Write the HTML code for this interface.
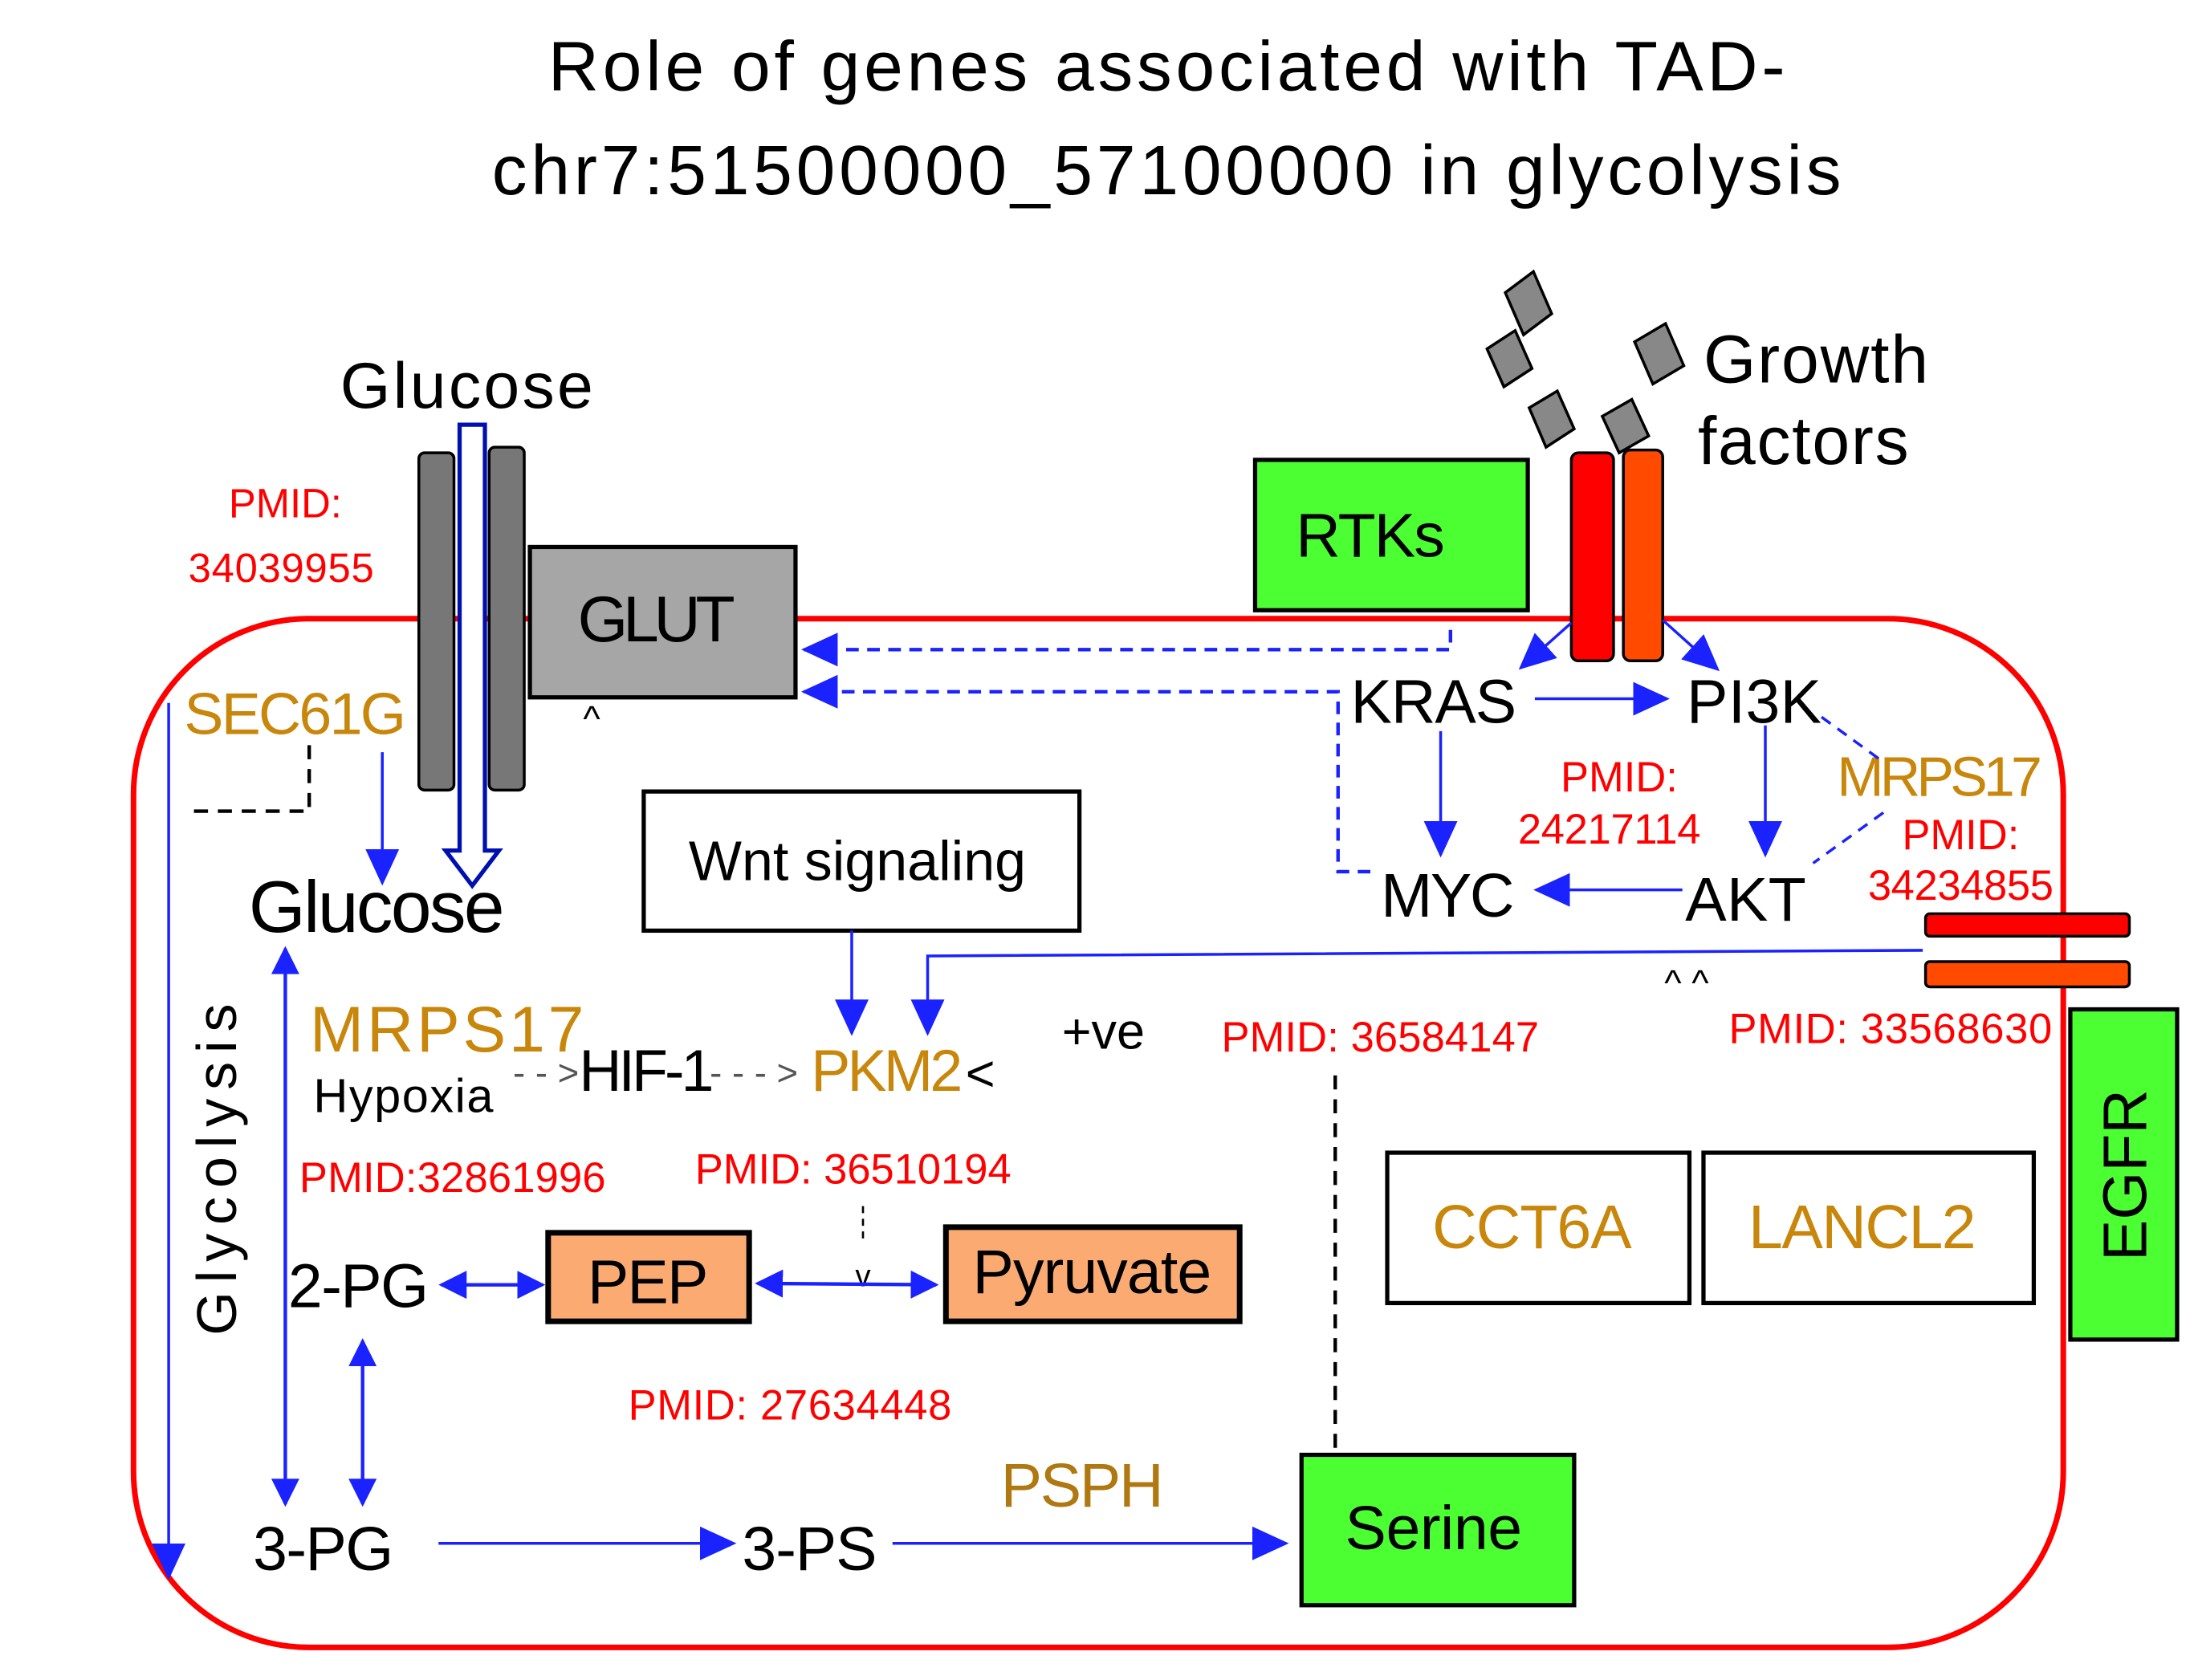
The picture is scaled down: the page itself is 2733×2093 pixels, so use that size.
<!DOCTYPE html>
<html><head><meta charset="utf-8"><style>html,body{margin:0;padding:0;background:#fff}svg{display:block}text{font-family:"Liberation Sans",Arial,sans-serif}</style></head>
<body>
<svg width="2733" height="2093" viewBox="0 0 1561 1195" xmlns="http://www.w3.org/2000/svg">
<defs>
<marker id="ah" markerWidth="20" markerHeight="20" refX="18" refY="10" orient="auto" markerUnits="userSpaceOnUse"><path d="M0,0 L20,10 L0,20 z" fill="#1a22ff"/></marker>
<marker id="ahs" markerWidth="20" markerHeight="20" refX="2" refY="10" orient="auto" markerUnits="userSpaceOnUse"><path d="M20,0 L0,10 L20,20 z" fill="#1a22ff"/></marker>
<marker id="ahb" markerWidth="26" markerHeight="24" refX="24" refY="12" orient="auto" markerUnits="userSpaceOnUse"><path d="M0,0 L26,12 L0,24 z" fill="#1a22ff"/></marker>
</defs>
<g font-size="50" text-anchor="middle" fill="#000">
<text x="830" y="64" textLength="880">Role of genes associated with TAD-</text>
<text x="830" y="138" textLength="960">chr7:51500000_57100000 in glycolysis</text>
</g>
<rect x="95" y="440" width="1373" height="732" rx="125" fill="none" stroke="#f00" stroke-width="4"/>
<g>
<rect x="298" y="322" width="25" height="240" rx="4" fill="#777" stroke="#000" stroke-width="2"/>
<rect x="348" y="318" width="25" height="244" rx="4" fill="#777" stroke="#000" stroke-width="2"/>
<path d="M327,302 H345 V605 H355 L336,630 L317,605 H327 Z" fill="#fff" stroke="#0010b0" stroke-width="3"/>
</g>
<text x="332" y="290" font-size="46" text-anchor="middle" textLength="180">Glucose</text>
<rect x="377" y="389" width="189" height="107" fill="#a6a6a6" stroke="#000" stroke-width="3"/>
<text x="467" y="456" font-size="46" text-anchor="middle" textLength="112">GLUT</text>
<text x="421" y="520" font-size="26" text-anchor="middle">^</text>
<g fill="#f00" font-size="29" text-anchor="middle">
<text x="203" y="368">PMID:</text><text x="200" y="414" textLength="132">34039955</text></g>
<text x="210" y="522" font-size="42" fill="#c8860a" text-anchor="middle" textLength="158">SEC61G</text>
<path d="M220,530 V577 H133" fill="none" stroke="#000" stroke-width="2.5" stroke-dasharray="10,7"/>
<line x1="272" y1="535" x2="272" y2="628" stroke="#1a22ff" stroke-width="2" marker-end="url(#ahb)"/>
<line x1="120" y1="500" x2="120" y2="1122" stroke="#1a22ff" stroke-width="2" marker-end="url(#ahb)"/>
<text transform="translate(168,832) rotate(-90)" font-size="40" text-anchor="middle" textLength="236">Glycolysis</text>
<text x="268" y="663" font-size="52" text-anchor="middle" textLength="182">Glucose</text>
<line x1="203" y1="675" x2="203" y2="1070" stroke="#1a22ff" stroke-width="2.5" marker-start="url(#ahs)" marker-end="url(#ah)"/>
<text x="318" y="748" font-size="46" fill="#c8860a" text-anchor="middle" textLength="195">MRPS17</text>
<text x="287" y="791" font-size="34" text-anchor="middle" textLength="128">Hypoxia</text>
<text x="365" y="772" font-size="26" fill="#555">- - &gt;</text>
<text x="412" y="776" font-size="42" textLength="96">HIF-1</text>
<text x="505" y="772" font-size="26" fill="#555">- - - &gt;</text>
<text x="577" y="776" font-size="42" fill="#c8860a" textLength="108">PKM2</text>
<text x="687" y="776" font-size="36">&lt;</text>
<text x="785" y="746" font-size="36" text-anchor="middle">+ve</text>
<text x="322" y="848" font-size="30" fill="#f00" text-anchor="middle" textLength="218">PMID:32861996</text>
<text x="607" y="842" font-size="30" fill="#f00" text-anchor="middle" textLength="225">PMID: 36510194</text>
<rect x="458" y="563" width="310" height="99" fill="#fff" stroke="#000" stroke-width="3"/>
<text x="610" y="626" font-size="40" text-anchor="middle" textLength="240">Wnt signaling</text>
<line x1="606" y1="662" x2="606" y2="735" stroke="#1a22ff" stroke-width="2" marker-end="url(#ahb)"/>
<path d="M1368,676 L660,680 V735" fill="none" stroke="#1a22ff" stroke-width="2" marker-end="url(#ahb)"/>
<line x1="614" y1="858" x2="614" y2="885" stroke="#000" stroke-width="1.5" stroke-dasharray="5,4"/>
<text x="614" y="915" font-size="22" text-anchor="middle">v</text>
<text x="255" y="930" font-size="44" text-anchor="middle" textLength="100">2-PG</text>
<rect x="390" y="877" width="143" height="63" fill="#fbab72" stroke="#000" stroke-width="4"/>
<text x="461" y="927" font-size="44" text-anchor="middle" textLength="86">PEP</text>
<rect x="673" y="873" width="209" height="67" fill="#fbab72" stroke="#000" stroke-width="4"/>
<text x="777" y="920" font-size="44" text-anchor="middle" textLength="170">Pyruvate</text>
<line x1="314" y1="914" x2="386" y2="914" stroke="#1a22ff" stroke-width="2.5" marker-start="url(#ahs)" marker-end="url(#ah)"/>
<line x1="539" y1="913" x2="666" y2="914" stroke="#1a22ff" stroke-width="2.5" marker-start="url(#ahs)" marker-end="url(#ah)"/>
<line x1="258" y1="954" x2="258" y2="1070" stroke="#1a22ff" stroke-width="2.5" marker-start="url(#ahs)" marker-end="url(#ah)"/>
<text x="562" y="1010" font-size="30" fill="#f00" text-anchor="middle" textLength="230">PMID: 27634448</text>
<text x="230" y="1117" font-size="44" text-anchor="middle" textLength="100">3-PG</text>
<line x1="312" y1="1098" x2="522" y2="1098" stroke="#1a22ff" stroke-width="2" marker-end="url(#ahb)"/>
<text x="576" y="1117" font-size="44" text-anchor="middle" textLength="96">3-PS</text>
<line x1="635" y1="1098" x2="915" y2="1098" stroke="#1a22ff" stroke-width="2" marker-end="url(#ahb)"/>
<text x="770" y="1072" font-size="44" fill="#b07810" text-anchor="middle" textLength="116">PSPH</text>
<rect x="926" y="1035" width="194" height="107" fill="#4cff33" stroke="#000" stroke-width="3"/>
<text x="1020" y="1102" font-size="44" text-anchor="middle" textLength="126">Serine</text>
<line x1="950" y1="765" x2="950" y2="1035" stroke="#000" stroke-width="2.5" stroke-dasharray="10,7"/>
<text x="982" y="748" font-size="30" fill="#f00" text-anchor="middle" textLength="226">PMID: 36584147</text>
<rect x="987" y="820" width="215" height="107" fill="#fff" stroke="#000" stroke-width="3"/>
<text x="1090" y="888" font-size="44" fill="#c8860a" text-anchor="middle" textLength="142">CCT6A</text>
<rect x="1212" y="820" width="235" height="107" fill="#fff" stroke="#000" stroke-width="3"/>
<text x="1325" y="888" font-size="44" fill="#c8860a" text-anchor="middle" textLength="162">LANCL2</text>
<rect x="1473" y="718" width="76" height="235" fill="#4cff33" stroke="#000" stroke-width="3"/>
<text transform="translate(1527,836) rotate(-90)" font-size="44" text-anchor="middle">EGFR</text>
<rect x="1370" y="650" width="145" height="16" rx="3" fill="#f00" stroke="#000" stroke-width="2"/>
<rect x="1370" y="684" width="145" height="18" rx="3" fill="#ff4a00" stroke="#000" stroke-width="2"/>
<text x="1345" y="742" font-size="30" fill="#f00" text-anchor="middle" textLength="230">PMID: 33568630</text>
<text x="1200" y="708" font-size="26" text-anchor="middle">^ ^</text>
<rect x="893" y="327" width="194" height="107" fill="#4cff33" stroke="#000" stroke-width="3"/>
<text x="975" y="396" font-size="44" text-anchor="middle" textLength="106">RTKs</text>
<rect x="1118" y="322" width="30" height="148" rx="5" fill="#f00" stroke="#000" stroke-width="2"/>
<rect x="1155" y="320" width="28" height="150" rx="5" fill="#ff4a00" stroke="#000" stroke-width="2"/>
<g fill="#888" stroke="#000" stroke-width="2">
<path d="M1071,208 L1091,193 L1104,223 L1084,238 Z"/>
<path d="M1058,248 L1078,235 L1090,262 L1070,275 Z"/>
<path d="M1088,290 L1108,278 L1120,305 L1100,318 Z"/>
<path d="M1163,243 L1185,230 L1198,260 L1176,273 Z"/>
<path d="M1140,296 L1161,284 L1173,310 L1152,322 Z"/>
</g>
<text x="1292" y="272" font-size="48" text-anchor="middle" textLength="160">Growth</text>
<text x="1283" y="330" font-size="48" text-anchor="middle" textLength="150">factors</text>
<text x="1020" y="514" font-size="44" text-anchor="middle" textLength="118">KRAS</text>
<text x="1248" y="514" font-size="44" text-anchor="middle" textLength="96">PI3K</text>
<text x="1030" y="652" font-size="44" text-anchor="middle" textLength="95">MYC</text>
<text x="1242" y="655" font-size="44" text-anchor="middle" textLength="86">AKT</text>
<line x1="1118" y1="443" x2="1082" y2="475" stroke="#1a22ff" stroke-width="2" marker-end="url(#ahb)"/>
<line x1="1183" y1="441" x2="1222" y2="476" stroke="#1a22ff" stroke-width="2" marker-end="url(#ahb)"/>
<line x1="1092" y1="497" x2="1186" y2="497" stroke="#1a22ff" stroke-width="2" marker-end="url(#ahb)"/>
<line x1="1025" y1="520" x2="1025" y2="608" stroke="#1a22ff" stroke-width="2" marker-end="url(#ahb)"/>
<line x1="1256" y1="516" x2="1256" y2="608" stroke="#1a22ff" stroke-width="2" marker-end="url(#ahb)"/>
<line x1="1197" y1="633" x2="1093" y2="633" stroke="#1a22ff" stroke-width="2" marker-end="url(#ahb)"/>
<path d="M1032,448 V462 H572" fill="none" stroke="#1a22ff" stroke-width="2.5" stroke-dasharray="9,6" marker-end="url(#ahb)"/>
<path d="M975,620 H952 V492 H572" fill="none" stroke="#1a22ff" stroke-width="2.5" stroke-dasharray="9,6" marker-end="url(#ahb)"/>
<g fill="#f00" font-size="30" text-anchor="middle"><text x="1152" y="563">PMID:</text><text x="1145" y="600" textLength="130">24217114</text></g>
<text x="1380" y="566" font-size="40" fill="#c8860a" text-anchor="middle" textLength="146">MRPS17</text>
<g fill="#f00" font-size="30" text-anchor="middle"><text x="1395" y="604">PMID:</text><text x="1395" y="640" textLength="132">34234855</text></g>
<line x1="1296" y1="510" x2="1340" y2="542" stroke="#1a22ff" stroke-width="2" stroke-dasharray="8,6"/>
<line x1="1340" y1="578" x2="1290" y2="614" stroke="#1a22ff" stroke-width="2" stroke-dasharray="8,6"/>
</svg>
</body></html>
